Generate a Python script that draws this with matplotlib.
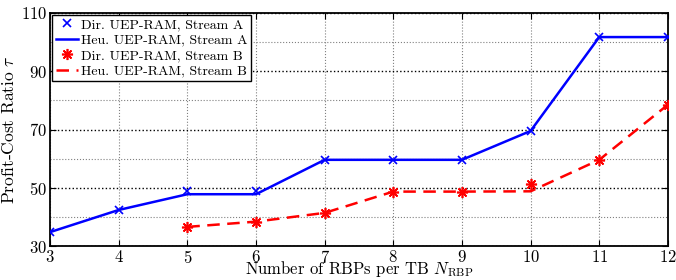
import numpy as np
import matplotlib.pyplot as plt

plt.rcParams['font.family'] = ['cmr10', 'DejaVu Serif']
plt.rcParams['mathtext.fontset'] = 'cm'
plt.rcParams['axes.formatter.use_mathtext'] = True

# -----------------------
# Data
# -----------------------
n_rbp_a = [3, 4, 5, 6, 7, 8, 9, 10, 11, 12]
dir_a = [34.8, 42.4, 49.0, 49.0, 59.6, 59.6, 59.6, 69.5, 101.7, 101.7]
heu_a = [34.8, 42.4, 47.8, 47.8, 59.6, 59.6, 59.6, 69.5, 101.7, 101.7]

n_rbp_b = [5, 6, 7, 8, 9, 10, 11, 12]
dir_b = [36.6, 38.4, 41.4, 48.7, 48.7, 51.2, 59.6, 78.5]
heu_b = [36.6, 38.4, 41.4, 48.7, 48.7, 48.8, 59.6, 78.5]

labels = ["Dir. UEP-RAM, Stream A", "Heu. UEP-RAM, Stream A",
          "Dir. UEP-RAM, Stream B", "Heu. UEP-RAM, Stream B"]

fig = plt.figure(figsize=(6.76, 2.8), dpi=100)
ax = fig.add_axes([0.074, 0.121, 0.914, 0.833])

ax.plot(n_rbp_a, dir_a, linestyle='none', marker='x', color='blue',
        markersize=6, markeredgewidth=1.2, label=labels[0], zorder=4)
ax.plot(n_rbp_a, heu_a, linestyle='-', color='blue', linewidth=1.8,
        label=labels[1], zorder=3)
ax.plot(n_rbp_b, dir_b, linestyle='none', marker=(8, 2, 0), color='red',
        markersize=8, markeredgewidth=1.2, label=labels[2], zorder=4)
ax.plot(n_rbp_b, heu_b, linestyle=(0, (5, 3)), color='red', linewidth=1.8,
        label=labels[3], zorder=3)

ax.set_xlim(3, 12)
ax.set_ylim(30, 110)
ax.set_xticks(range(3, 13))
ax.set_yticks([30, 50, 70, 90, 110])
ax.set_yticks([40, 60, 80, 100], minor=True)

ax.grid(True, which='major', axis='y', linestyle=':', color='black', linewidth=1.0)
ax.grid(True, which='minor', axis='y', linestyle=':', color='gray', linewidth=0.8)
ax.grid(True, which='major', axis='x', linestyle=':', color='gray', linewidth=0.8)

ax.tick_params(which='both', direction='in', top=True, right=True, labelsize=12)
ax.tick_params(which='minor', length=0)
ax.tick_params(which='major', length=4, pad=2)
for s in ax.spines.values():
    s.set_linewidth(1.3)

ax.set_xlabel(r"Number of RBPs per TB $N_{\mathrm{RBP}}$", fontsize=12, labelpad=-5)
ax.set_ylabel(r"Profit-Cost Ratio $\tau$", fontsize=12.5, labelpad=3)

leg = ax.legend(loc='upper left', fontsize=10, handlelength=1.6, handletextpad=0.2,
                borderaxespad=0.15, borderpad=0.25, labelspacing=0.2,
                fancybox=False, edgecolor='black', framealpha=1)
leg.get_frame().set_linewidth(1.0)

fig.savefig("out.png", dpi=100)
